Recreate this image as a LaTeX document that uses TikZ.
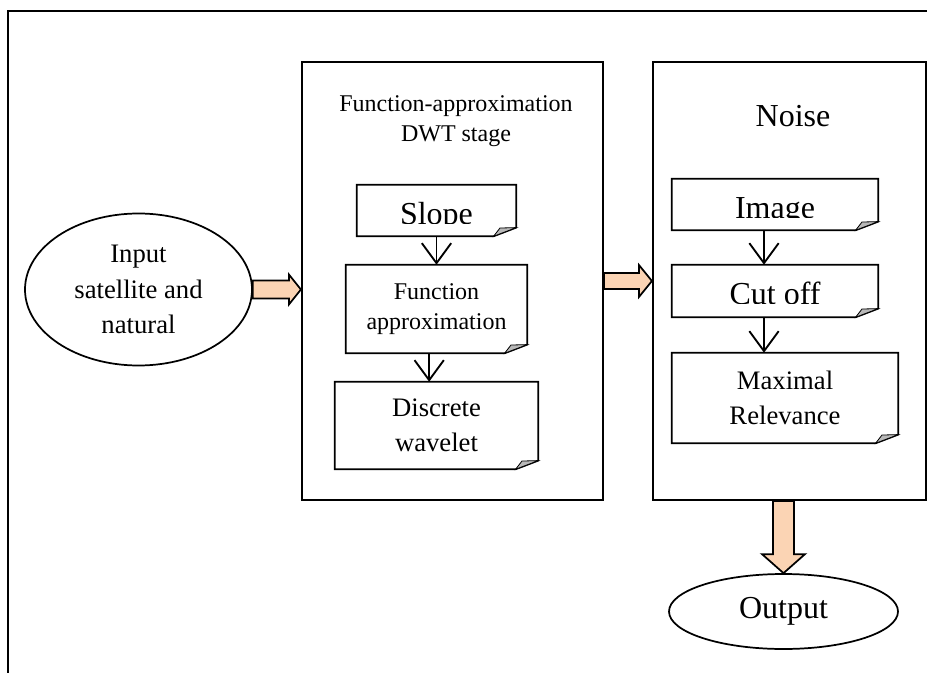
\documentclass[tikz,border=0pt]{standalone}
\usepackage{fontspec}
\setmainfont{Liberation Serif}
\usetikzlibrary{shapes.geometric,arrows.meta,calc}
\definecolor{peach}{HTML}{FBD4B4}
\newlength\foldw \setlength\foldw{17pt}
\newlength\foldh \setlength\foldh{6.5pt}
\tikzset{
  stage/.style={draw, line width=1.6pt, inner sep=0pt},
  note/.style={inner sep=0pt, align=center},
  blob/.style={draw, ellipse, line width=1.3pt, inner sep=0pt, align=center},
  flow/.style={-{Straight Barb[length=15pt,width=22pt,line width=1.4pt]}, line width=1.4pt},
  fat/.style={draw, line width=1.3pt, fill=peach, line join=miter},
  big/.style={font=\fontsize{24}{30}\selectfont},
  mid/.style={font=\fontsize{20}{26.5}\selectfont},
  small/.style={font=\fontsize{18}{23}\selectfont},
}
\newcommand\dogear[1]{%
  \draw[line width=1.3pt] (#1.north west) -- (#1.north east) -- ([yshift=\foldh]#1.south east)
    -- ([xshift=-\foldw]#1.south east) -- (#1.south west) -- cycle;
  \draw[line width=0.6pt, fill=black!28] ([xshift=-\foldw]#1.south east)
    -- ([xshift=-0.72\foldw,yshift=0.95\foldh]#1.south east) -- ([yshift=\foldh]#1.south east) -- cycle;}

\begin{document}
\begin{tikzpicture}[x=0.75pt, y=-0.75pt]
  \useasboundingbox (0,0) rectangle (927,673);
  \draw[line width=1.6pt] (8,673) -- (8,11) -- (927,11);

  \node[blob, mid, minimum width=170.25pt, minimum height=114pt] (input) at (138.5,289.5) {Input\\satellite and\\natural};
  \node[stage, minimum width=225.75pt, minimum height=328.5pt] (dwt) at (452.5,281) {};
  \node[stage, minimum width=204.75pt, minimum height=328.5pt] (noise) at (789.5,281) {};
  \node[small, align=center] (dwttitle) at (456,121) {Function-approximation\\DWT stage};
  \node[big, anchor=base] (noisetitle) at (793,127) {Noise};

  \node[note, minimum width=119.25pt, minimum height=38.25pt] (slope) at (436.5,210.5) {};
  \node[note, small, minimum width=135.75pt, minimum height=66pt] (approx) at (436.5,309) {Function\\approximation};
  \node[note, mid, minimum width=152.25pt, minimum height=65.25pt] (wavelet) at (436.5,425.5) {Discrete\\wavelet};
  \node[note, minimum width=154.5pt, minimum height=38.25pt] (image) at (775,204.5) {};
  \node[note, minimum width=154.5pt, minimum height=39pt] (cutoff) at (775,291) {};
  \node[note, mid, minimum width=169.5pt, minimum height=67.5pt] (relev) at (785,398) {Maximal\\Relevance};
  \node[blob, big, minimum width=171.75pt, minimum height=56.25pt] (output) at (783.5,611.5) {Output};

  \foreach \n in {slope,approx,wavelet,image,cutoff,relev} {\dogear{\n}}

  % labels cut off at the bottom
  \begin{scope}
    \clip (slope.north west) rectangle ([yshift=9.75pt]slope.south east);
    \node[big, anchor=base] (slopetxt) at ([yshift=9pt]slope.south) {Slope};
  \end{scope}
  \begin{scope}
    \clip (image.north west) rectangle ([yshift=9.75pt]image.south east);
    \node[big, anchor=base] (imagetxt) at ([yshift=9pt]image.south) {Image};
  \end{scope}
  \begin{scope}
    \clip (cutoff.north west) rectangle ([yshift=10.5pt]cutoff.south east);
    \node[big, anchor=base] (cutofftxt) at ([yshift=9.75pt]cutoff.south) {Cut off};
  \end{scope}

  \draw[flow] (slope) -- (approx);
  \draw[flow] ([xshift=-5.5pt]approx.south) -- ([xshift=-5.5pt]wavelet.north);
  \draw[flow] ([xshift=-8.25pt]image.south) -- ([xshift=-8.25pt]cutoff.north);
  \draw[flow] ([xshift=-8.25pt]cutoff.south) -- ([xshift=-15.75pt]relev.north);

  \coordinate (tipA) at (input.east -| dwt.west);
  \draw[fat] ($(input.east)+(0,-9)$) -- ($(tipA)+(-12,-9)$) -- ($(tipA)+(-12,-15)$) -- (tipA)
    -- ($(tipA)+(-12,15)$) -- ($(tipA)+(-12,9)$) -- ($(input.east)+(0,9)$) -- cycle;
  \draw[fat] ($(dwt.east)+(0,-8)$) -- ($(noise.west)+(-13,-8)$) -- ($(noise.west)+(-13,-16)$) -- (noise.west)
    -- ($(noise.west)+(-13,16)$) -- ($(noise.west)+(-13,8)$) -- ($(dwt.east)+(0,8)$) -- cycle;
  \coordinate (tailC) at (noise.south -| output.north);
  \draw[fat] ($(tailC)+(-10.5,0)$) -- ($(output.north)+(-10.5,-19)$) -- ($(output.north)+(-21.5,-19)$) -- (output.north)
    -- ($(output.north)+(21.5,-19)$) -- ($(output.north)+(10.5,-19)$) -- ($(tailC)+(10.5,0)$) -- cycle;
\end{tikzpicture}
\end{document}
